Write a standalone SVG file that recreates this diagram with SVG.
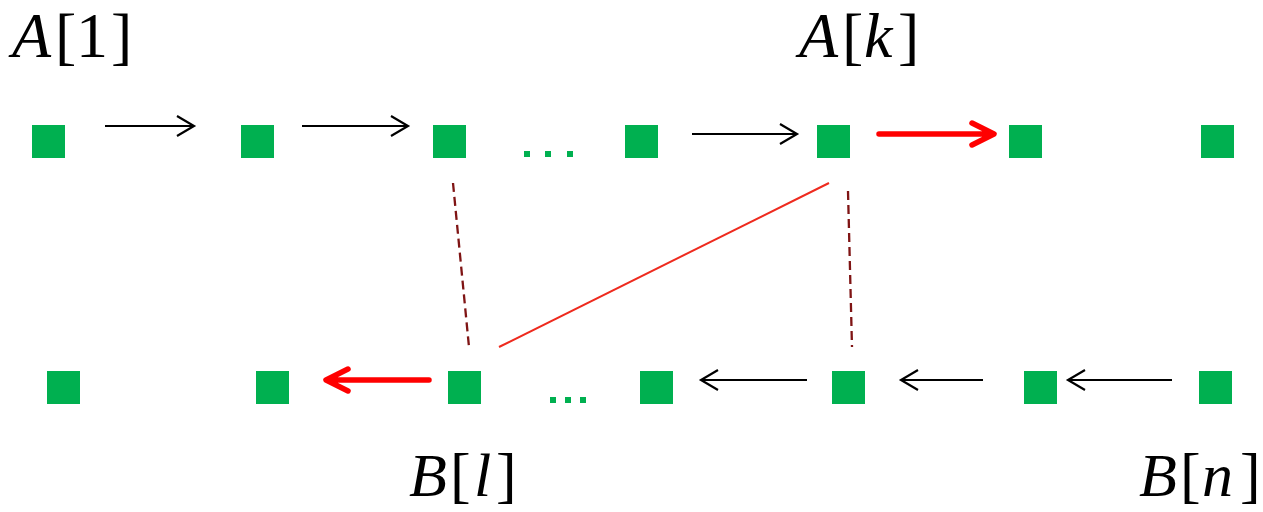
<svg xmlns="http://www.w3.org/2000/svg" width="1263" height="512" viewBox="0 0 1263 512">
<style>
.n{fill:#00B050}
.d{fill:#00B050}
.lbl{font-family:"Liberation Serif",serif;font-size:64px;fill:#000}
.it{font-style:italic}
.blk{fill:none;stroke:#000;stroke-width:2.2}
.red{fill:none;stroke:#FF0000;stroke-width:5.5;stroke-linecap:round;stroke-linejoin:round}
.dash{fill:none;stroke:#7F1414;stroke-width:2.3;stroke-dasharray:9 5}
.diag{fill:none;stroke:#EE2A1E;stroke-width:2}
</style>
<rect width="1263" height="512" fill="#fff"/>
<g id="top-row">
<rect id="a1" class="n" x="32" y="125" width="33" height="33"/>
<rect id="a2" class="n" x="241" y="125" width="33" height="33"/>
<rect id="a3" class="n" x="433" y="125" width="33" height="33"/>
<rect id="a4" class="n" x="625" y="125" width="33" height="33"/>
<rect id="ak" class="n" x="817" y="125" width="33" height="33"/>
<rect id="a6" class="n" x="1009" y="125" width="33" height="33"/>
<rect id="a7" class="n" x="1201" y="125" width="33" height="33"/>
</g>
<g id="top-dots">
<rect class="d" x="524" y="151" width="6" height="6"/>
<rect class="d" x="545" y="151" width="6" height="6"/>
<rect class="d" x="567" y="151" width="6" height="6"/>
</g>
<g id="bottom-row">
<rect id="b1" class="n" x="47" y="371" width="33" height="33"/>
<rect id="b2" class="n" x="256" y="371" width="33" height="33"/>
<rect id="bl" class="n" x="448" y="371" width="33" height="33"/>
<rect id="b4" class="n" x="640" y="371" width="33" height="33"/>
<rect id="b5" class="n" x="832" y="371" width="33" height="33"/>
<rect id="b6" class="n" x="1024" y="371" width="33" height="33"/>
<rect id="bn" class="n" x="1199" y="371" width="33" height="33"/>
</g>
<g id="bottom-dots">
<rect class="d" x="550" y="397" width="6" height="6"/>
<rect class="d" x="565" y="397" width="6" height="6"/>
<rect class="d" x="580" y="397" width="6" height="6"/>
</g>
<g id="connectors">
<path class="blk" d="M105 126H194M177 116L194 126L177 136"/>
<path class="blk" d="M302 126H408M391 116L408 126L391 136"/>
<path class="blk" d="M692 134H797M780 124L797 134L780 144"/>
<path class="red" d="M879 134H993M972 123L994 134L972 145"/>
<path class="red" d="M429 380H327M348 369L326 380L348 391"/>
<path class="blk" d="M807 380H701M718 370L701 380L718 390"/>
<path class="blk" d="M983 380H901M918 370L901 380L918 390"/>
<path class="blk" d="M1172 380H1068M1085 370L1068 380L1085 390"/>
<path class="dash" d="M453 183L469 347"/>
<path class="dash" d="M848 191L852 347"/>
<path class="diag" d="M829 183L499 347"/>
</g>
<g id="labels">
<text class="lbl" y="57"><tspan class="it" x="12">A</tspan><tspan x="55">[</tspan><tspan x="76">1</tspan><tspan x="111">]</tspan></text>
<text class="lbl" y="57"><tspan class="it" x="799">A</tspan><tspan x="842">[</tspan><tspan class="it" x="864">k</tspan><tspan x="898">]</tspan></text>
<text class="lbl" y="496" style="font-size:62px"><tspan class="it" x="409">B</tspan><tspan x="450">[</tspan><tspan class="it" x="474">l</tspan><tspan x="496">]</tspan></text>
<text class="lbl" y="496" style="font-size:62px"><tspan class="it" x="1139">B</tspan><tspan x="1180">[</tspan><tspan class="it" x="1202">n</tspan><tspan x="1240">]</tspan></text>
</g>
</svg>
